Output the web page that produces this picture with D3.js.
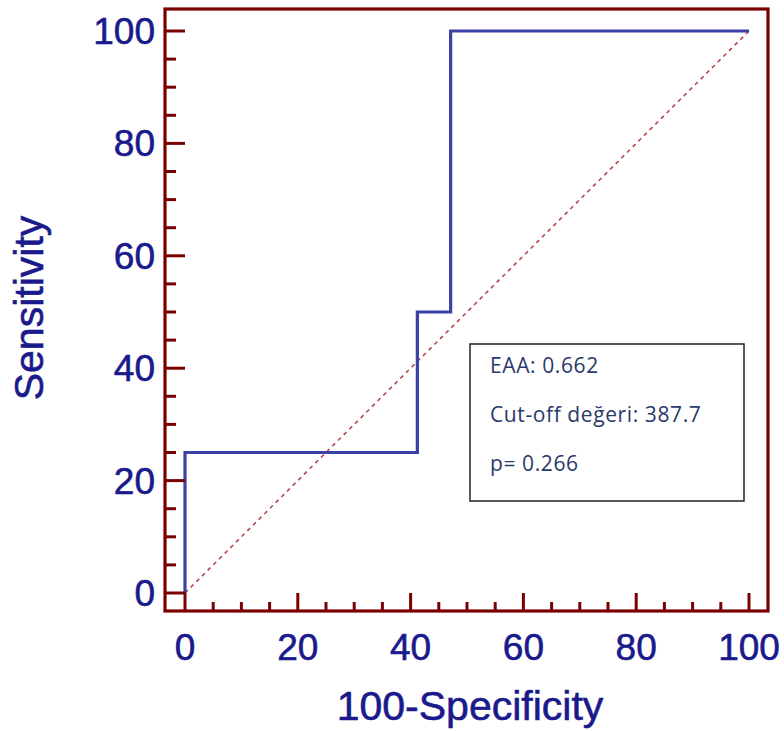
<!DOCTYPE html>
<html>
<head>
<meta charset="utf-8">
<script src="https://cdn.jsdelivr.net/npm/d3@7"></script>
<style>
  body { margin: 0; background: #fff; }
  svg text { font-family: "Liberation Sans", Arial, sans-serif; }
</style>
</head>
<body>
<div id="chart"></div>
<script>
// ROC data
const rocX = [0, 0, 41.2, 41.2, 47.1, 47.1, 100];
const rocY = [0, 25, 25, 50, 50, 100, 100];
const majorTicks = [0, 20, 40, 60, 80, 100];
const minorTicks = d3.range(0, 101, 5).filter((d) => d % 20 != 0);
const legendLines = ["EAA: 0.662", "Cut-off değeri: 387.7", "p= 0.266"];

const width = 784;
const height = 731;
const frame = { left: 165, top: 9, right: 768, bottom: 611 };

const svg = d3
  .select("div#chart")
  .append("svg")
  .attr("width", width)
  .attr("height", height);

const x = d3.scaleLinear().domain([0, 100]).range([185, 749]);
const y = d3.scaleLinear().domain([0, 100]).range([593, 31]);

const axisColor = "#7a0000";
const textColor = "#1a1a8c";

// diagonal reference line
svg
  .append("line")
  .attr("x1", x(0))
  .attr("y1", y(0))
  .attr("x2", x(100))
  .attr("y2", y(100))
  .attr("stroke", "#b5474a")
  .attr("stroke-width", 1.6)
  .attr("stroke-dasharray", "4,4");

// ROC curve
const line = d3
  .line()
  .x((d) => x(d[0]))
  .y((d) => y(d[1]));

svg
  .append("path")
  .datum(rocX.map((d, i) => [d, rocY[i]]))
  .attr("d", line)
  .attr("fill", "none")
  .attr("stroke", "#3a40a6")
  .attr("stroke-width", 3.2);

// frame
svg
  .append("rect")
  .attr("x", frame.left)
  .attr("y", frame.top)
  .attr("width", frame.right - frame.left)
  .attr("height", frame.bottom - frame.top)
  .attr("fill", "none")
  .attr("stroke", axisColor)
  .attr("stroke-width", 3.2);

// ticks (inward)
const tickGroup = svg.append("g").attr("stroke", axisColor).attr("stroke-width", 3);
majorTicks.forEach((t) => {
  tickGroup.append("line").attr("x1", x(t)).attr("x2", x(t)).attr("y1", frame.bottom).attr("y2", frame.bottom - 18);
  tickGroup.append("line").attr("y1", y(t)).attr("y2", y(t)).attr("x1", frame.left).attr("x2", frame.left + 20);
});
minorTicks.forEach((t) => {
  tickGroup.append("line").attr("x1", x(t)).attr("x2", x(t)).attr("y1", frame.bottom).attr("y2", frame.bottom - 9);
  tickGroup.append("line").attr("y1", y(t)).attr("y2", y(t)).attr("x1", frame.left).attr("x2", frame.left + 11);
});

// tick labels
svg
  .selectAll("text.xtick")
  .data(majorTicks)
  .enter()
  .append("text")
  .attr("class", "xtick")
  .attr("x", (d) => x(d))
  .attr("y", 660)
  .attr("text-anchor", "middle")
  .attr("font-size", 37)
  .attr("fill", textColor)
  .attr("stroke", textColor)
  .attr("stroke-width", 0.6)
  .text((d) => d);

svg
  .selectAll("text.ytick")
  .data(majorTicks)
  .enter()
  .append("text")
  .attr("class", "ytick")
  .attr("x", 155)
  .attr("y", (d) => y(d) + 13)
  .attr("text-anchor", "end")
  .attr("font-size", 37)
  .attr("fill", textColor)
  .attr("stroke", textColor)
  .attr("stroke-width", 0.6)
  .text((d) => d);

// axis titles
svg
  .append("text")
  .attr("x", 470)
  .attr("y", 720)
  .attr("text-anchor", "middle")
  .attr("font-size", 41)
  .attr("fill", textColor)
  .attr("stroke", textColor)
  .attr("stroke-width", 0.6)
  .text("100-Specificity");

svg
  .append("text")
  .attr("transform", "translate(43, 308) rotate(-90)")
  .attr("text-anchor", "middle")
  .attr("font-size", 41)
  .attr("fill", textColor)
  .attr("stroke", textColor)
  .attr("stroke-width", 0.6)
  .text("Sensitivity");

// legend box
const legend = svg.append("g").attr("transform", "translate(470, 344)");
legend
  .append("rect")
  .attr("width", 274)
  .attr("height", 157)
  .attr("fill", "#fff")
  .attr("stroke", "#222")
  .attr("stroke-width", 1.5);

legend
  .selectAll("text")
  .data(legendLines)
  .enter()
  .append("text")
  .attr("x", 20)
  .attr("y", (d, i) => 29 + i * 49)
  .attr("font-size", 21)
  .attr("letter-spacing", 0.6)
  .style("font-family", "'Open Sans', sans-serif")
  .attr("fill", "#2a3a6a")
  .text((d) => d);
</script>
</body>
</html>
